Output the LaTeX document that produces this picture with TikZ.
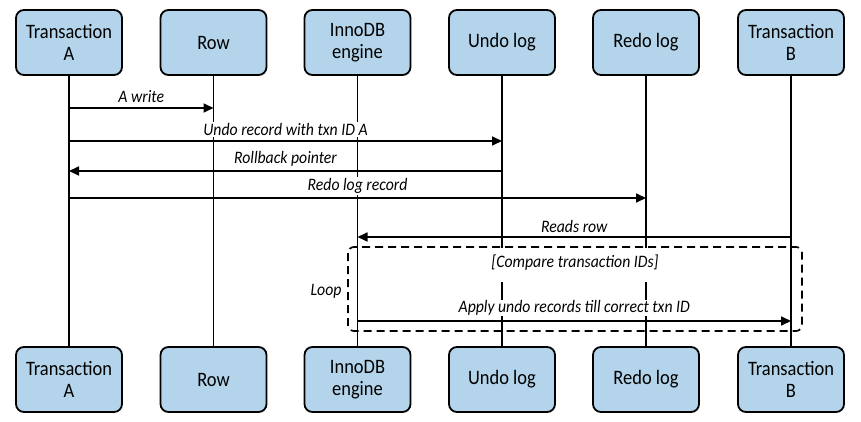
\documentclass[tikz,border=0pt]{standalone}
\usepackage{fontspec}
\setmainfont{Carlito}[FakeStretch=0.9]
\usepackage{tikz}
\usetikzlibrary{arrows.meta}
\definecolor{boxblue}{HTML}{B3D4EA}

\begin{document}
\begin{tikzpicture}[x=1pt, y=-1pt,
    actor/.style={draw, line width=1.8pt, rounded corners=8pt, fill=boxblue,
        minimum width=106pt, minimum height=65pt, align=center,
        font=\fontsize{20.5}{22}\selectfont},
    life/.style={line width=1.7pt},
    msg/.style={line width=1.7pt, -{Triangle[length=10pt,width=9pt]}},
    lbl/.style={fill=white, inner sep=1pt, font=\fontsize{17.5}{20}\selectfont\itshape}]
    \useasboundingbox (0,0) rectangle (861,422);
    % participants, top row
    \node[actor] (ta)   at (69,42.5)    {Transaction\\A};
    \node[actor] (row)  at (213.5,42.5) {Row};
    \node[actor] (eng)  at (357.5,42.5) {InnoDB\\engine};
    \node[actor] (undo) at (502,42.5)   {Undo log};
    \node[actor] (redo) at (646,42.5)   {Redo log};
    \node[actor] (tb)   at (791,42.5)   {Transaction\\B};
    % participants, bottom row
    \node[actor] (ta2)   at (69,379.5)    {Transaction\\A};
    \node[actor] (row2)  at (213.5,379.5) {Row};
    \node[actor] (eng2)  at (357.5,379.5) {InnoDB\\engine};
    \node[actor] (undo2) at (502,379.5)   {Undo log};
    \node[actor] (redo2) at (646,379.5)   {Redo log};
    \node[actor] (tb2)   at (791,379.5)   {Transaction\\B};
    % lifelines
    \draw[life] (ta) -- (ta2);
    \draw[life] (row) -- (row2);
    \draw[life] (eng) -- (eng2);
    \draw[life] (undo) -- (undo2);
    \draw[life] (redo) -- (redo2);
    \draw[life] (tb) -- (tb2);
    % loop frame
    \draw[line width=1.7pt, dash pattern=on 8pt off 5pt, rounded corners=6pt]
        (348,247) rectangle (802,331);
    % messages
    \draw[msg] (ta |- 0,108) -- node[lbl, yshift=11.5pt]{A write} (row |- 0,108);
    \draw[msg] (ta |- 0,141) -- node[lbl, yshift=11.5pt]{Undo record with txn ID A} (undo |- 0,141);
    \draw[msg] (undo |- 0,171) -- node[lbl, yshift=12pt]{Rollback pointer} (ta |- 0,171);
    \draw[msg] (ta |- 0,198) -- node[lbl, yshift=12pt]{Redo log record} (redo |- 0,198);
    \draw[msg] (tb |- 0,237) -- node[lbl, yshift=10.5pt]{Reads row} (eng |- 0,237);
    \node[lbl, text height=18pt, text depth=14pt] (cmp) at (575,265) {[Compare transaction IDs]};
    \draw[msg] (eng |- 0,321) -- node[lbl, yshift=13pt]{Apply undo records till correct txn ID} (tb |- 0,321);
    \node[lbl] (loop) at (326,291) {Loop};
\end{tikzpicture}
\end{document}
